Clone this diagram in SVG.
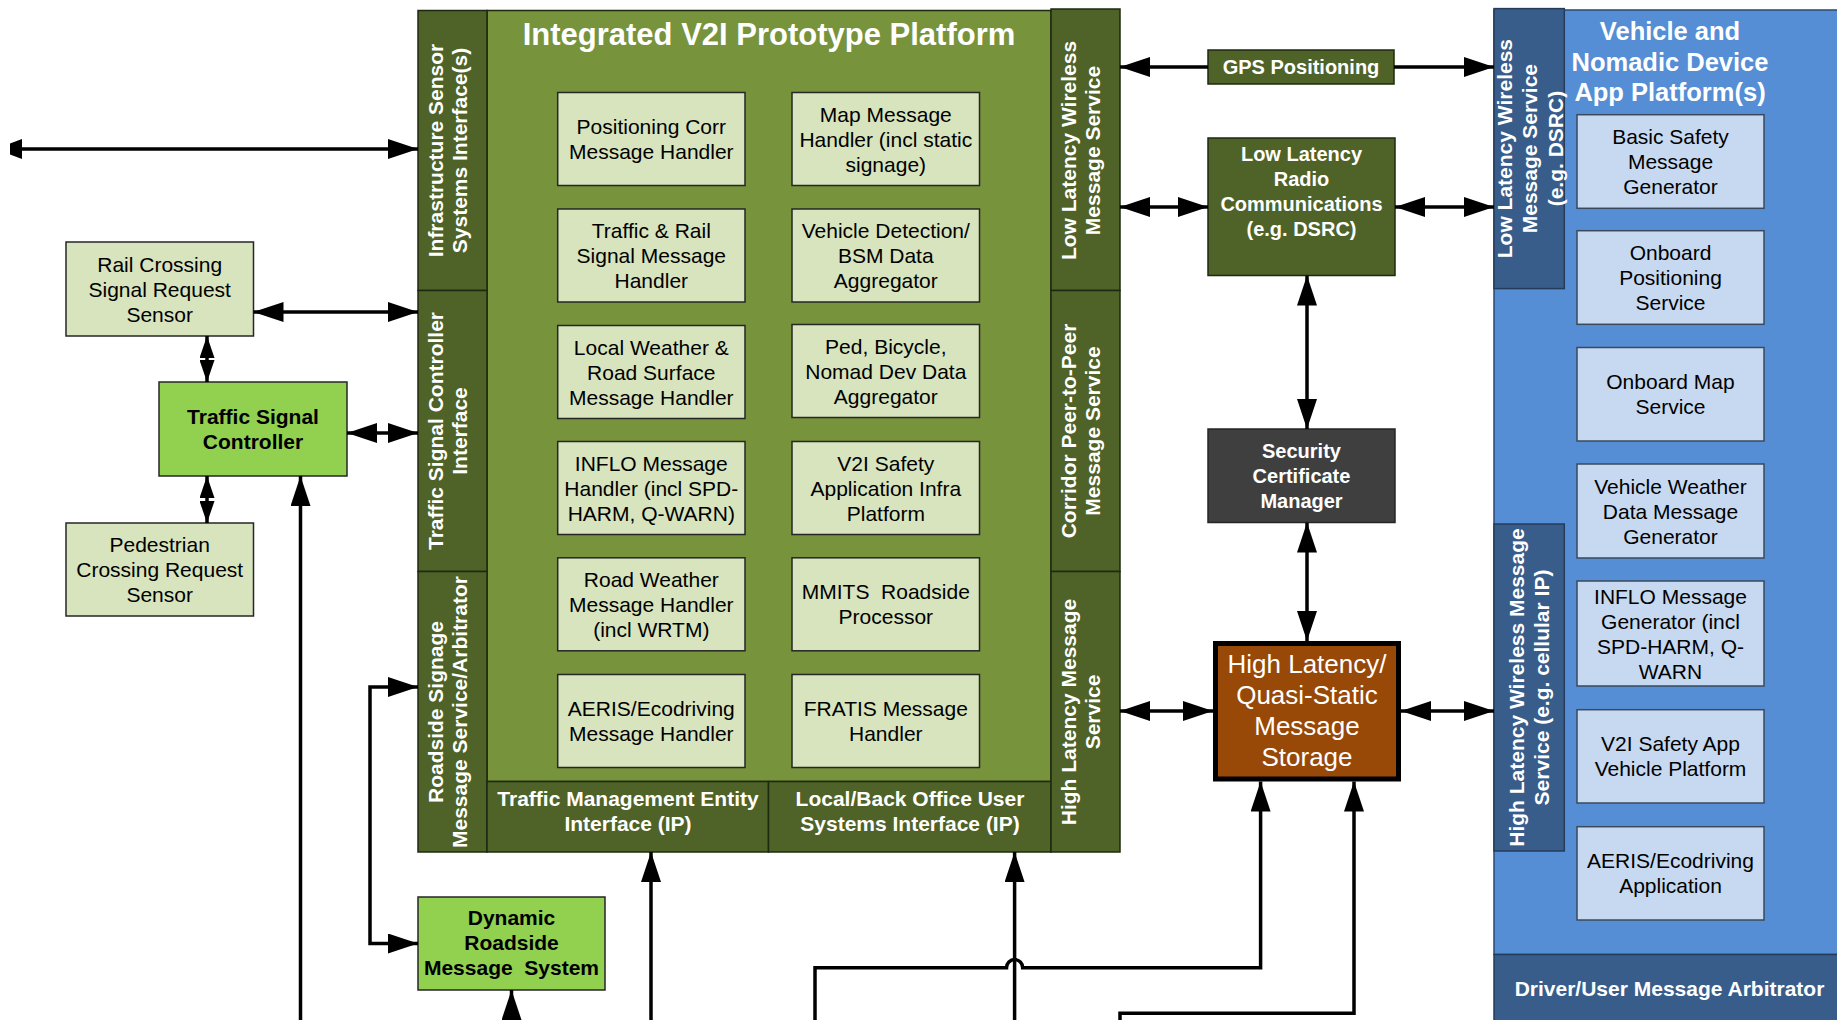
<svg xmlns="http://www.w3.org/2000/svg" width="1837" height="1020" viewBox="0 0 1837 1020">
<defs>
<style>
.dk{fill:#4f6228;stroke:#1e2a10;stroke-width:1.5}
.md{fill:#77933c;stroke:#1e2a10;stroke-width:1.5}
.lt{fill:#d7e4bd;stroke:#262626;stroke-width:1.5}
.bg{fill:#92d050;stroke:#262626;stroke-width:1.5}
.gr{fill:#3f3f3f;stroke:#262626;stroke-width:1.5}
.st{fill:#984807;stroke:#000;stroke-width:5}
.bl{fill:#558ed5;stroke:#2b4a70;stroke-width:1.5}
.db{fill:#385d8a;stroke:#243c5a;stroke-width:1.5}
.lb{fill:#c6d9f1;stroke:#3a4a5c;stroke-width:1.5}
text{font-family:"Liberation Sans",Arial,sans-serif;text-anchor:middle}
.t{font-size:21px;fill:#000}
.tb{font-size:21px;fill:#000;font-weight:bold}
.tw{font-size:21px;fill:#fff;font-weight:bold}
.c{fill:none;stroke:#000;stroke-width:3.5}
</style>
<marker id="ah" viewBox="0 0 30 20" refX="30" refY="10" markerWidth="30" markerHeight="20" markerUnits="userSpaceOnUse" orient="auto-start-reverse"><path d="M0,0 L30,10 L0,20 z" fill="#000"/></marker>
<marker id="as" viewBox="0 0 22 15" refX="22" refY="7.5" markerWidth="22" markerHeight="15" markerUnits="userSpaceOnUse" orient="auto-start-reverse"><path d="M0,0 L22,7.5 L0,15 z" fill="#000"/></marker>
</defs>
<rect width="1837" height="1020" fill="#fff"/>

<g id="v2i-platform">
<rect class="md" x="487" y="10.5" width="564" height="771"/>
<text x="769" y="45" style="font-size:31px;font-weight:bold;fill:#fff">Integrated V2I Prototype Platform</text>
</g>

<g id="infra-sensor-if">
<rect class="dk" x="418" y="10.5" width="69" height="280"/>
<g transform="translate(452.5,150.5) rotate(-90)"><text class="tw" y="-10">Infrastructure Sensor</text><text class="tw" y="14">Systems Interface(s)</text></g>
</g>
<g id="tsc-if">
<rect class="dk" x="418" y="290.5" width="69" height="281"/>
<g transform="translate(452.5,431) rotate(-90)"><text class="tw" y="-10">Traffic Signal Controller</text><text class="tw" y="14">Interface</text></g>
</g>
<g id="roadside-signage">
<rect class="dk" x="418" y="571.5" width="69" height="280.5"/>
<g transform="translate(452.5,712) rotate(-90)"><text class="tw" y="-10">Roadside Signage</text><text class="tw" y="14">Message Service/Arbitrator</text></g>
</g>
<g id="tme-if">
<rect class="dk" x="487" y="781.5" width="281.5" height="70.5"/>
<text class="tw" x="628" y="805.5">Traffic Management Entity</text><text class="tw" x="628" y="831">Interface (IP)</text>
</g>
<g id="local-if">
<rect class="dk" x="768.5" y="781.5" width="282.5" height="70.5"/>
<text class="tw" x="910" y="805.5">Local/Back Office User</text><text class="tw" x="910" y="831">Systems Interface (IP)</text>
</g>
<g id="low-lat-service">
<rect class="dk" x="1051" y="9" width="69" height="281.5"/>
<g transform="translate(1085.5,150.5) rotate(-90)"><text class="tw" y="-10">Low Latency Wireless</text><text class="tw" y="14">Message Service</text></g>
</g>
<g id="corridor-p2p">
<rect class="dk" x="1051" y="290.5" width="69" height="281"/>
<g transform="translate(1085.5,431) rotate(-90)"><text class="tw" y="-10">Corridor Peer-to-Peer</text><text class="tw" y="14">Message Service</text></g>
</g>
<g id="high-lat-service">
<rect class="dk" x="1051" y="571.5" width="69" height="280.5"/>
<g transform="translate(1085.5,712) rotate(-90)"><text class="tw" y="-10">High Latency Message</text><text class="tw" y="14">Service</text></g>
</g>

<g id="pos-corr">
<rect class="lt" x="557.7" y="92.5" width="187.3" height="93"/>
<text class="t" x="651.3" y="134">Positioning Corr</text><text class="t" x="651.3" y="159">Message Handler</text>
</g>
<g id="map-msg">
<rect class="lt" x="792" y="92.5" width="187.5" height="93"/>
<text class="t" x="885.8" y="121.5">Map Message</text><text class="t" x="885.8" y="146.5">Handler (incl static</text><text class="t" x="885.8" y="171.5">signage)</text>
</g>
<g id="traffic-rail">
<rect class="lt" x="557.7" y="209" width="187.3" height="93"/>
<text class="t" x="651.3" y="238">Traffic &amp; Rail</text><text class="t" x="651.3" y="263">Signal Message</text><text class="t" x="651.3" y="288">Handler</text>
</g>
<g id="veh-detect">
<rect class="lt" x="792" y="209" width="187.5" height="93"/>
<text class="t" x="885.8" y="238">Vehicle Detection/</text><text class="t" x="885.8" y="263">BSM Data</text><text class="t" x="885.8" y="288">Aggregator</text>
</g>
<g id="local-weather">
<rect class="lt" x="557.7" y="325.5" width="187.3" height="93"/>
<text class="t" x="651.3" y="354.5">Local Weather &amp;</text><text class="t" x="651.3" y="379.5">Road Surface</text><text class="t" x="651.3" y="404.5">Message Handler</text>
</g>
<g id="ped-bicycle">
<rect class="lt" x="792" y="324.5" width="187.5" height="93"/>
<text class="t" x="885.8" y="353.5">Ped, Bicycle,</text><text class="t" x="885.8" y="378.5">Nomad Dev Data</text><text class="t" x="885.8" y="403.5">Aggregator</text>
</g>
<g id="inflo-handler">
<rect class="lt" x="557.7" y="441.5" width="187.3" height="93"/>
<text class="t" x="651.3" y="470.5">INFLO Message</text><text class="t" x="651.3" y="495.5">Handler (incl SPD-</text><text class="t" x="651.3" y="520.5">HARM, Q-WARN)</text>
</g>
<g id="v2i-safety-infra">
<rect class="lt" x="792" y="441.5" width="187.5" height="93"/>
<text class="t" x="885.8" y="470.5">V2I Safety</text><text class="t" x="885.8" y="495.5">Application Infra</text><text class="t" x="885.8" y="520.5">Platform</text>
</g>
<g id="road-weather">
<rect class="lt" x="557.7" y="557.8" width="187.3" height="93"/>
<text class="t" x="651.3" y="586.8">Road Weather</text><text class="t" x="651.3" y="611.8">Message Handler</text><text class="t" x="651.3" y="636.8">(incl WRTM)</text>
</g>
<g id="mmits">
<rect class="lt" x="792" y="557.8" width="187.5" height="93"/>
<text class="t" x="885.8" y="599.3" xml:space="preserve">MMITS  Roadside</text><text class="t" x="885.8" y="624.3">Processor</text>
</g>
<g id="aeris-handler">
<rect class="lt" x="557.7" y="674.5" width="187.3" height="93"/>
<text class="t" x="651.3" y="716">AERIS/Ecodriving</text><text class="t" x="651.3" y="741">Message Handler</text>
</g>
<g id="fratis">
<rect class="lt" x="792" y="674.5" width="187.5" height="93"/>
<text class="t" x="885.8" y="716">FRATIS Message</text><text class="t" x="885.8" y="741">Handler</text>
</g>

<g id="rail-sensor">
<rect class="lt" x="66" y="242" width="187.5" height="94"/>
<text class="t" x="159.7" y="271.5">Rail Crossing</text><text class="t" x="159.7" y="296.5">Signal Request</text><text class="t" x="159.7" y="321.5">Sensor</text>
</g>
<g id="tsc">
<rect class="bg" x="159" y="382" width="188" height="94"/>
<text class="tb" x="253" y="423.5">Traffic Signal</text><text class="tb" x="253" y="448.5">Controller</text>
</g>
<g id="ped-sensor">
<rect class="lt" x="66" y="523" width="187.5" height="93"/>
<text class="t" x="159.7" y="552">Pedestrian</text><text class="t" x="159.7" y="577">Crossing Request</text><text class="t" x="159.7" y="602">Sensor</text>
</g>
<g id="drms">
<rect class="bg" x="418" y="897" width="187" height="93"/>
<text class="tb" x="511.5" y="925">Dynamic</text><text class="tb" x="511.5" y="950">Roadside</text><text class="tb" x="511.5" y="975" xml:space="preserve">Message  System</text>
</g>

<g id="gps">
<rect class="dk" x="1208" y="50" width="186" height="34"/>
<text class="tw" x="1301" y="74" style="font-size:20px">GPS Positioning</text>
</g>
<g id="llrc">
<rect class="dk" x="1208" y="138" width="187" height="137.5"/>
<text class="tw" x="1301.5" y="161" style="font-size:20px">Low Latency</text><text class="tw" x="1301.5" y="186" style="font-size:20px">Radio</text><text class="tw" x="1301.5" y="211" style="font-size:20px">Communications</text><text class="tw" x="1301.5" y="236" style="font-size:20px">(e.g. DSRC)</text>
</g>
<g id="scm">
<rect class="gr" x="1208" y="429" width="187" height="93.5"/>
<text class="tw" x="1301.5" y="458" style="font-size:20px">Security</text><text class="tw" x="1301.5" y="483" style="font-size:20px">Certificate</text><text class="tw" x="1301.5" y="508" style="font-size:20px">Manager</text>
</g>
<g id="storage">
<rect class="st" x="1215.5" y="643.5" width="183" height="135.5"/>
<text x="1307" y="672.5" style="font-size:26px;fill:#fff">High Latency/</text><text x="1307" y="703.8" style="font-size:26px;fill:#fff">Quasi-Static</text><text x="1307" y="735.1" style="font-size:26px;fill:#fff">Message</text><text x="1307" y="766.4" style="font-size:26px;fill:#fff">Storage</text>
</g>

<g id="vehicle-platform">
<rect class="bl" x="1494" y="10" width="345" height="944.5"/>
<text x="1670" y="40" style="font-size:25.5px;font-weight:bold;fill:#fff">Vehicle and</text><text x="1670" y="70.5" style="font-size:25.5px;font-weight:bold;fill:#fff">Nomadic Device</text><text x="1670" y="101" style="font-size:25.5px;font-weight:bold;fill:#fff">App Platform(s)</text>
</g>
<g id="veh-low-lat">
<rect class="db" x="1494" y="8.6" width="70.3" height="280"/>
<g transform="translate(1529,148.6) rotate(-90)"><text class="tw" y="-17.5">Low Latency Wireless</text><text class="tw" y="8">Message Service</text><text class="tw" y="33.5">(e.g. DSRC)</text></g>
</g>
<g id="veh-high-lat">
<rect class="db" x="1494" y="524" width="70.3" height="327"/>
<g transform="translate(1529,687.5) rotate(-90)"><text class="tw" y="-5.5">High Latency Wireless Message</text><text class="tw" y="20">Service (e.g. cellular IP)</text></g>
</g>
<g id="driver-arbitrator">
<rect class="db" x="1494" y="954.5" width="345" height="67"/>
<text class="tw" x="1669.5" y="996">Driver/User Message Arbitrator</text>
</g>
<g id="bsm-gen">
<rect class="lb" x="1577" y="114.7" width="187" height="93.6"/>
<text class="t" x="1670.5" y="144">Basic Safety</text><text class="t" x="1670.5" y="169">Message</text><text class="t" x="1670.5" y="194">Generator</text>
</g>
<g id="onboard-pos">
<rect class="lb" x="1577" y="230.7" width="187" height="93.6"/>
<text class="t" x="1670.5" y="260">Onboard</text><text class="t" x="1670.5" y="285">Positioning</text><text class="t" x="1670.5" y="310">Service</text>
</g>
<g id="onboard-map">
<rect class="lb" x="1577" y="347.5" width="187" height="93.5"/>
<text class="t" x="1670.5" y="389">Onboard Map</text><text class="t" x="1670.5" y="414">Service</text>
</g>
<g id="veh-weather">
<rect class="lb" x="1577" y="464" width="187" height="94"/>
<text class="t" x="1670.5" y="493.5">Vehicle Weather</text><text class="t" x="1670.5" y="518.5">Data Message</text><text class="t" x="1670.5" y="543.5">Generator</text>
</g>
<g id="inflo-gen">
<rect class="lb" x="1577" y="581" width="187" height="105"/>
<text class="t" x="1670.5" y="603.5">INFLO Message</text><text class="t" x="1670.5" y="628.5">Generator (incl</text><text class="t" x="1670.5" y="653.5">SPD-HARM, Q-</text><text class="t" x="1670.5" y="678.5">WARN</text>
</g>
<g id="v2i-veh">
<rect class="lb" x="1577" y="709.7" width="187" height="93.3"/>
<text class="t" x="1670.5" y="751">V2I Safety App</text><text class="t" x="1670.5" y="776">Vehicle Platform</text>
</g>
<g id="aeris-app">
<rect class="lb" x="1577" y="826.7" width="187" height="93.3"/>
<text class="t" x="1670.5" y="868">AERIS/Ecodriving</text><text class="t" x="1670.5" y="893">Application</text>
</g>

<g id="connectors">
<polygon points="10,143.5 22,139 22,159 10,154.5" fill="#000"/>
<line class="c" x1="22" y1="149" x2="418" y2="149" marker-end="url(#ah)"/>
<line class="c" x1="253.5" y1="312" x2="418" y2="312" marker-start="url(#ah)" marker-end="url(#ah)"/>
<line class="c" x1="207" y1="336" x2="207" y2="382" marker-start="url(#as)" marker-end="url(#as)"/>
<line class="c" x1="347" y1="433" x2="418" y2="433" marker-start="url(#ah)" marker-end="url(#ah)"/>
<line class="c" x1="207" y1="476" x2="207" y2="523" marker-start="url(#as)" marker-end="url(#as)"/>
<line class="c" x1="300.5" y1="1022" x2="300.5" y2="476" marker-end="url(#ah)"/>
<path class="c" d="M418,687 H370 V943.5 H418" marker-start="url(#ah)" marker-end="url(#ah)"/>
<line class="c" x1="511.5" y1="1022" x2="511.5" y2="990" marker-end="url(#ah)"/>
<line class="c" x1="651" y1="1022" x2="651" y2="852" marker-end="url(#ah)"/>
<line class="c" x1="1014.6" y1="1022" x2="1014.6" y2="852" marker-end="url(#ah)"/>
<path class="c" d="M815,1022 V967.7 H1006.5 A8.1,8.1 0 0 1 1022.7,967.7 H1260.6 V781.5" marker-end="url(#ah)"/>
<path class="c" d="M1120,1022 V1013.3 H1354 V781.5" marker-end="url(#ah)"/>
<line class="c" x1="1208" y1="67" x2="1120" y2="67" marker-end="url(#ah)"/>
<line class="c" x1="1394" y1="67" x2="1494" y2="67" marker-end="url(#ah)"/>
<line class="c" x1="1120" y1="207" x2="1208" y2="207" marker-start="url(#ah)" marker-end="url(#ah)"/>
<line class="c" x1="1395" y1="207" x2="1494" y2="207" marker-start="url(#ah)" marker-end="url(#ah)"/>
<line class="c" x1="1307" y1="275.5" x2="1307" y2="429" marker-start="url(#ah)" marker-end="url(#ah)"/>
<line class="c" x1="1307" y1="522.5" x2="1307" y2="641" marker-start="url(#ah)" marker-end="url(#ah)"/>
<line class="c" x1="1120" y1="711" x2="1213" y2="711" marker-start="url(#ah)" marker-end="url(#ah)"/>
<line class="c" x1="1401" y1="711" x2="1494" y2="711" marker-start="url(#ah)" marker-end="url(#ah)"/>
</g>
</svg>
